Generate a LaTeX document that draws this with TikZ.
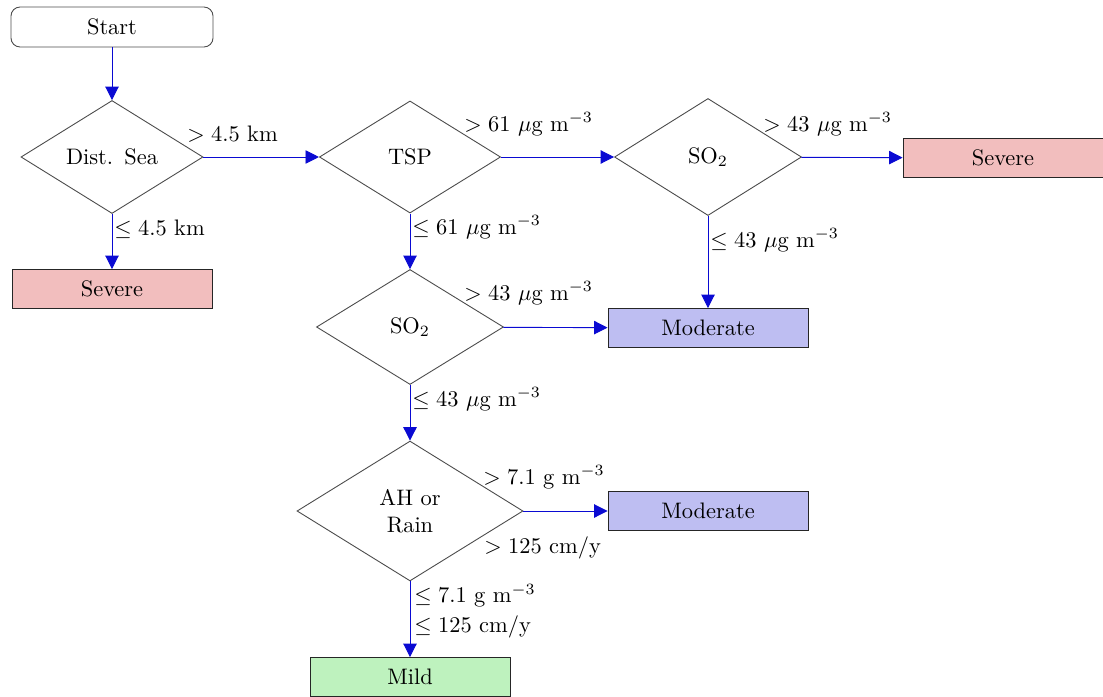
\documentclass[tikz,border=0pt]{standalone}
\usetikzlibrary{shapes.geometric,arrows.meta}

\definecolor{sevfill}{RGB}{242,190,190}
\definecolor{modfill}{RGB}{190,190,242}
\definecolor{mildfill}{RGB}{190,242,190}
\definecolor{flow}{RGB}{10,10,210}

\tikzset{
  startbox/.style={draw=black!70, rounded corners=4pt, minimum width=90.1pt,
    minimum height=17.8pt, inner sep=0pt},
  outbox/.style={draw=black!85, minimum width=89.2pt, minimum height=17.4pt, inner sep=0pt},
  severebox/.style={outbox, fill=sevfill},
  moderatebox/.style={outbox, fill=modfill},
  mildbox/.style={outbox, fill=mildfill},
  decision/.style={diamond, draw=black!70, aspect=1.6, inner sep=1pt, align=center},
  flowline/.style={draw=flow, -{Triangle[length=6pt,width=6pt]}},
  lbl/.style={inner sep=0pt, anchor=base west, align=left},
}

\begin{document}
\begin{tikzpicture}[x=0.446pt, y=-0.446pt]
  \useasboundingbox (0,0) rectangle (1103,697);

  % boxes
  \node[startbox] (start) at (112,27) {Start};
  \node[severebox] (sev1) at (112,289) {Severe};
  \node[severebox] (sev2) at (1003,158) {Severe};
  \node[moderatebox] (mod1) at (708,328) {Moderate};
  \node[moderatebox] (mod2) at (708,511) {Moderate};
  \node[mildbox] (mild) at (410,677) {Mild};

  % decisions
  \node[decision, minimum width=81.2pt, minimum height=50.4pt] (dist) at (112,157) {Dist.\hspace{5pt}Sea};
  \node[decision, minimum width=80.8pt, minimum height=50pt] (tsp) at (410,157) {TSP};
  \node[decision, minimum width=83.4pt, minimum height=52.2pt] (so2a) at (708,157) {SO$_2$};
  \node[decision, minimum width=83.4pt, minimum height=51.3pt] (so2b) at (410,327) {SO$_2$};
  \node[decision, minimum width=100.8pt, minimum height=62.4pt] (ah) at (410,511) {AH or\\Rain};

  % connectors
  \draw[flowline] (start) -- (dist);
  \draw[flowline] (dist) -- (tsp);
  \draw[flowline] (dist) -- (sev1);
  \draw[flowline] (tsp) -- (so2a);
  \draw[flowline] (tsp) -- (so2b);
  \draw[flowline] (so2a) -- (sev2);
  \draw[flowline] (so2a) -- (mod1);
  \draw[flowline] (so2b) -- (mod1);
  \draw[flowline] (so2b) -- (ah);
  \draw[flowline] (ah) -- (mod2);
  \draw[flowline] (ah) -- (mild);

  % branch conditions
  \node[lbl] (c1) at (187,141) {$>4.5$ km};
  \node[lbl] (c2) at (114,235) {$\le4.5$ km};
  \node[lbl] (c3) at (464,131) {$>61\ \mu$g m$^{-3}$};
  \node[lbl] (c4) at (412,234) {$\le61\ \mu$g m$^{-3}$};
  \node[lbl] (c5) at (763,131) {$>43\ \mu$g m$^{-3}$};
  \node[lbl] (c6) at (710,247) {$\le43\ \mu$g m$^{-3}$};
  \node[lbl] (c7) at (464,300) {$>43\ \mu$g m$^{-3}$};
  \node[lbl] (c8) at (412,406) {$\le43\ \mu$g m$^{-3}$};
  \node[lbl] (c9) at (483,484) {$>7.1$ g m$^{-3}$};
  \node[lbl] (c10) at (484,553) {$>125$ cm/y};
  \node[lbl] (c11) at (414,632) {$\le7.1$ g m$^{-3}$\\[1pt]$\le125$ cm/y};
\end{tikzpicture}
\end{document}
